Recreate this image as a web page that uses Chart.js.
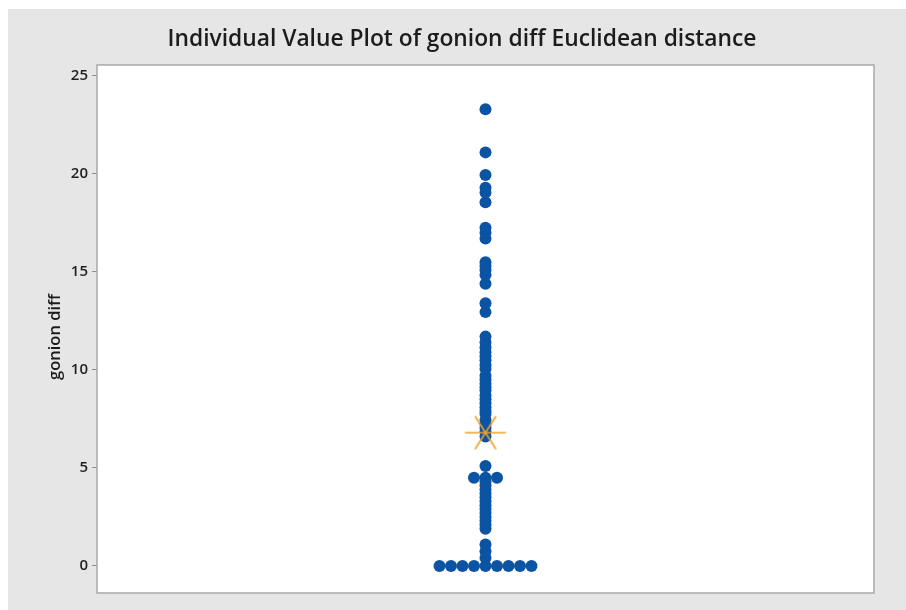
<!DOCTYPE html>
<html><head><meta charset="utf-8">
<script src="https://cdn.jsdelivr.net/npm/chart.js@4.4.0/dist/chart.umd.min.js"></script>
<style>html,body{margin:0;padding:0;background:#fff;}#wrap{width:906px;height:610px;}</style>
</head><body><div id="wrap"><canvas id="c" width="906" height="610"></canvas></div>
<script>
const categories = ['gonion diff'];
const values = [
  0, 0, 0, 0, 0, 0, 0, 0, 0,
  0.4, 0.75, 1.1,
  1.9, 2.1, 2.3, 2.5, 2.7, 2.9, 3.1, 3.3, 3.5, 3.7, 3.9, 4.1, 4.3,
  4.5, 4.5, 4.5,
  5.1,
  6.6, 6.85, 7.05, 7.25, 7.45, 7.75, 7.9, 8.1, 8.3, 8.5, 8.7, 8.95, 9.1, 9.3, 9.5, 9.7,
  10.05, 10.25, 10.5, 10.7, 10.9, 11.15, 11.4, 11.7,
  12.95, 13.4,
  14.4, 14.85, 15.1, 15.3, 15.5,
  16.7, 17.0, 17.25,
  18.55, 19.05, 19.3,
  19.95, 21.1, 23.3
];
const meanValue = [6.8];
const yTicks = [0, 5, 10, 15, 20, 25];
const titleText = 'Individual Value Plot of gonion diff Euclidean distance';

// tied values are placed side by side (individual value plot)
const counts = {};
values.forEach(v => { counts[v] = (counts[v] || 0) + 1; });
const seen = {};
const tieStep = 0.0296;
const points = values.map(v => {
  seen[v] = (seen[v] === undefined) ? 0 : seen[v] + 1;
  return { x: 1 + (seen[v] - (counts[v] - 1) / 2) * tieStep, y: v };
});
const meanPoints = meanValue.map(v => ({ x: 1, y: v }));

// mean symbol: X with a horizontal bar
const sym = document.createElement('canvas');
sym.width = 44; sym.height = 36;
(function () {
  const g = sym.getContext('2d');
  g.strokeStyle = '#eea028';
  g.lineWidth = 1.6;
  g.beginPath();
  g.moveTo(1.5, 18); g.lineTo(42.5, 18);
  g.moveTo(11.5, 1.5); g.lineTo(32.5, 34.5);
  g.moveTo(32.5, 1.5); g.lineTo(11.5, 34.5);
  g.stroke();
})();

const frame = {
  id: 'frame',
  beforeDraw(chart) {
    const { ctx, chartArea: a } = chart;
    ctx.save();
    ctx.fillStyle = '#ffffff';
    ctx.fillRect(0, 0, chart.width, chart.height);
    ctx.fillStyle = '#e6e6e6';
    ctx.fillRect(8, 9, chart.width - 8, chart.height - 9);
    ctx.fillStyle = '#ffffff';
    ctx.fillRect(a.left, a.top, a.right - a.left, a.bottom - a.top);
    ctx.restore();
  },
  afterDraw(chart) {
    const { ctx, chartArea: a } = chart;
    ctx.save();
    ctx.strokeStyle = '#a9a9a9';
    ctx.lineWidth = 1.5;
    ctx.strokeRect(a.left, a.top, a.right - a.left, a.bottom - a.top);
    // y axis title
    ctx.translate(55, (a.top + a.bottom) / 2 + 8);
    ctx.rotate(-Math.PI / 2);
    ctx.fillStyle = '#1c1c1c';
    ctx.font = '600 16.5px "Open Sans"';
    ctx.textAlign = 'center';
    ctx.textBaseline = 'middle';
    ctx.fillText(categories[0], 0, 0);
    ctx.restore();
  }
};

new Chart(document.getElementById('c'), {
  type: 'scatter',
  data: {
    datasets: [
      { label: 'mean', data: meanPoints, pointStyle: sym, pointRadius: 20, order: 0 },
      { label: categories[0], data: points, backgroundColor: '#0b53a3', borderWidth: 0,
        pointRadius: 6, pointHoverRadius: 6, order: 1 }
    ]
  },
  options: {
    responsive: false,
    animation: false,
    events: [],
    layout: { autoPadding: false, padding: { left: 18, right: 0, top: 0, bottom: 17 } },
    plugins: {
      legend: { display: false },
      tooltip: { enabled: false },
      title: {
        display: true, text: titleText, color: '#1c1c1c',
        font: { family: 'Open Sans', size: 22.8, weight: '600' },
        padding: { top: 26, bottom: 11.6 }
      }
    },
    scales: {
      x: { type: 'linear', min: 0, max: 2, display: false },
      y: {
        type: 'linear', position: 'left', min: -1.38, max: 25.56,
        afterBuildTicks: s => { s.ticks = yTicks.map(v => ({ value: v })); },
        afterFit: s => { s.width = 79; s.paddingTop = 0; s.paddingBottom = 0; },
        ticks: { color: '#1f1f1f', padding: 4, font: { family: 'Open Sans', size: 15, weight: '600' } },
        grid: { drawOnChartArea: false, drawTicks: true, tickLength: 5, color: '#8c8c8c' },
        border: { display: false },
        title: { display: false }
      },
      y2: {
        type: 'linear', position: 'right', min: 0, max: 1,
        afterFit: s => { s.width = 32; s.paddingTop = 0; s.paddingBottom = 0; },
        ticks: { display: false },
        grid: { display: false },
        border: { display: false }
      }
    }
  },
  plugins: [frame]
});
</script></body></html>
